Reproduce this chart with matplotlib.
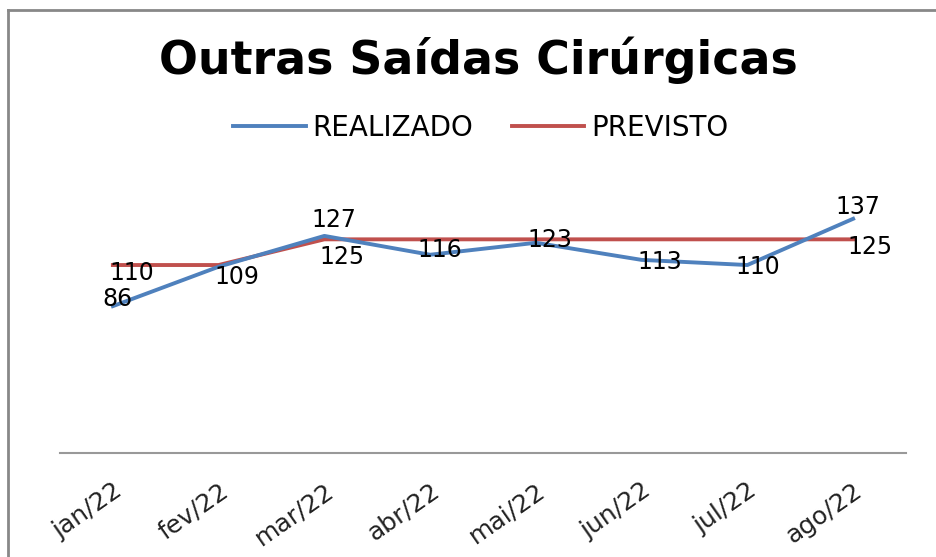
import matplotlib
matplotlib.use("Agg")
import matplotlib.pyplot as plt
from matplotlib.lines import Line2D

# data
months = ["jan/22", "fev/22", "mar/22", "abr/22", "mai/22", "jun/22", "jul/22", "ago/22"]
realizado = [86, 109, 127, 116, 123, 113, 110, 137]
previsto = [110, 110, 125, 125, 125, 125, 125, 125]

# which labels are visible (Excel hid the overlapping ones)
real_show = [True] * 8
prev_show = [True, False, True, False, False, False, False, True]
# label offsets in pixels (dx, dy)
real_off = [(5, 7), (18, -10), (10, 16), (10, 5), (14, 3), (18, -2), (10, -2), (5, 12)]
prev_off = [(19, -8), (0, 0), (18, -18), (0, 0), (0, 0), (0, 0), (0, 0), (17, -8)]

blue = "#4F81BD"
red = "#C0504D"

fig = plt.figure(figsize=(9.36, 5.57), dpi=100)
ax = fig.add_axes([60 / 936, 1 - 453.4 / 557, 846 / 936, (453.4 - 179.4) / 557])

x = list(range(len(months)))
ax.plot(x, realizado, color=blue, lw=2.8, solid_joinstyle="round", label="REALIZADO", zorder=3)
ax.plot(x, previsto, color=red, lw=2.8, solid_joinstyle="round", label="PREVISTO", zorder=2)

for i, v in enumerate(realizado):
    if real_show[i]:
        ax.annotate(str(v), (i, v), xytext=real_off[i], textcoords="offset pixels",
                    ha="center", va="center", fontsize=17, family="DejaVu Sans", zorder=5)
for i, v in enumerate(previsto):
    if prev_show[i]:
        ax.annotate(str(v), (i, v), xytext=prev_off[i], textcoords="offset pixels",
                    ha="center", va="center", fontsize=17, family="DejaVu Sans", zorder=5)

ax.set_xlim(-0.5, len(months) - 0.5)
ax.set_ylim(0, 160)
ax.set_xticks(x)
ax.set_xticklabels(months, rotation=35, ha="right", va="top", rotation_mode="anchor",
                   fontsize=18, family="DejaVu Sans", color="#222222")
ax.tick_params(axis="x", length=0, pad=18)
ax.set_yticks([])
for s in ["top", "left", "right"]:
    ax.spines[s].set_visible(False)
ax.spines["bottom"].set_color("#999999")
ax.spines["bottom"].set_linewidth(1.5)

fig.text(478 / 936, 1 - 74 / 557, "Outras Saídas Cirúrgicas", ha="center", va="baseline",
         fontsize=33, fontweight="bold", family="DejaVu Sans")

ax.legend(loc="center", bbox_to_anchor=(481 / 936, 1 - 128 / 557), bbox_transform=fig.transFigure,
          ncol=2, frameon=False, handlelength=2.6, handletextpad=0.25, columnspacing=1.4,
          prop={"family": "DejaVu Sans", "size": 20})

# outer chart border (left and top, the rest is cropped)
fig.add_artist(Line2D([8 / 936, 8 / 936], [0, 1 - 10 / 557], color="#888888", lw=2))
fig.add_artist(Line2D([8 / 936, 1], [1 - 10 / 557, 1 - 10 / 557], color="#888888", lw=2))

fig.savefig("out.png", dpi=100)
